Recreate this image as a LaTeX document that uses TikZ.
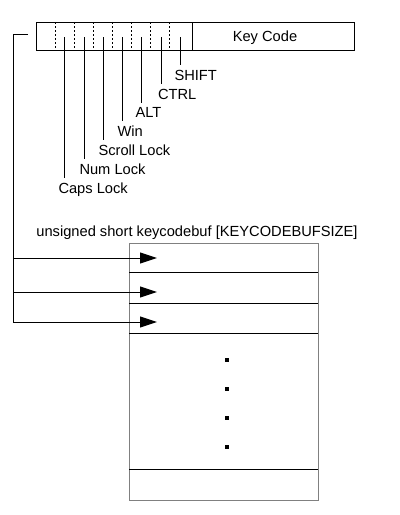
\documentclass[tikz,border=0pt]{standalone}
\usepackage{fontspec}
\setmainfont{Liberation Sans}
\usetikzlibrary{arrows.meta}
\begin{document}
\begin{tikzpicture}[x=0.75pt,y=-0.75pt,line width=0.75pt,>={Triangle[length=12.75pt,width=8.25pt]},
  lbl/.style={inner xsep=0pt,inner ysep=3pt,anchor=base west,font=\fontsize{11}{13}\selectfont}]
\useasboundingbox (0,0) rectangle (400,515);
% key code word
\draw (36,22) rectangle (354,50);
\foreach \x in {55,74,93,112,131,150,169}
  \draw[line width=0.6pt,dash pattern=on 1.5pt off 1.5pt] (\x,22)--(\x,50);
\draw (192,22)--(192,50);
\node[lbl,anchor=base] (kc) at (265,41.5) {Key Code};
% flag bits
\foreach \x/\l/\y/\t in {64.5/58/193/Caps Lock, 84/79/174/Num Lock, 103.5/98/155/Scroll Lock,
    122/117/136.5/Win, 141.5/135/117.5/ALT, 161/157.5/99/CTRL, 180/174/80/SHIFT}{
  \coordinate (top) at (\x,37);
  \node[lbl] (bit) at (\l,\y) {\t};
  \draw (top) -- (bit.north -| top);
}
% buffer
\node[lbl,anchor=base] (ttl) at (197,236) {unsigned short keycodebuf [KEYCODEBUFSIZE]};
\draw[gray] (129,243) rectangle (318,500);
\foreach \y in {272,303,333,469} \draw (129,\y)--(318,\y);
\foreach \y in {360,389,418,447} \fill (227,\y) +(-2,-2) rectangle +(2,2);
% pointers
\coordinate (from) at (28,34);
\coordinate (corner) at (13,34);
\foreach \y [count=\i] in {258,292,322}{
  \coordinate (s\i) at (13,\y);
  \coordinate (e\i) at (157,\y);
  \draw[->] (s\i)--(e\i);
}
\draw (from) -- (corner) -- (s3);
\end{tikzpicture}
\end{document}
